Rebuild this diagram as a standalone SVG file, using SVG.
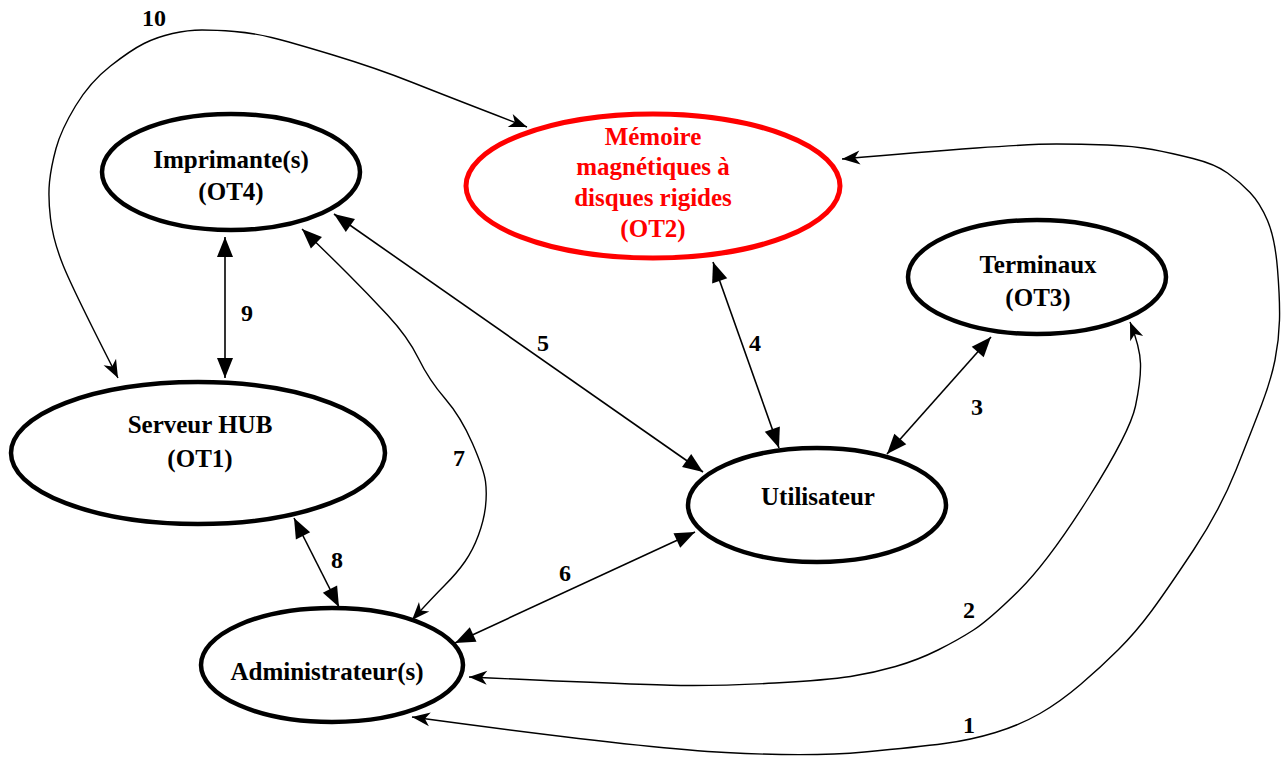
<svg xmlns="http://www.w3.org/2000/svg" width="1282" height="760" viewBox="0 0 1282 760">
<style>
.node{fill:#fff;stroke:#000;stroke-width:4.5}
.red{stroke:#f00;stroke-width:5}
.t{font-family:"Liberation Serif","Times New Roman",serif;font-weight:bold;font-size:25px;text-anchor:middle;fill:#000}
.tr{fill:#f00}
.lbl{font-family:"Liberation Serif","Times New Roman",serif;font-weight:bold;font-size:24px;text-anchor:middle;fill:#000}
.line{fill:none;stroke:#000;stroke-width:1.6;marker-start:url(#tri);marker-end:url(#tri)}
.curve{fill:none;stroke:#000;stroke-width:1.4;stroke-linejoin:round;marker-start:url(#st);marker-end:url(#st)}
</style>
<defs>
<marker id="tri" markerUnits="userSpaceOnUse" markerWidth="22" markerHeight="18" refX="20" refY="8" orient="auto-start-reverse" overflow="visible">
<path d="M0,0 L20,8 L0,16 z" fill="#000"/>
</marker>
<marker id="st" markerUnits="userSpaceOnUse" markerWidth="20" markerHeight="16" refX="18" refY="7" orient="auto-start-reverse" overflow="visible">
<path d="M0,0 L18,7 L0,14 L5,7 z" fill="#000"/>
</marker>
</defs>
<g id="connectors">
<path class="line" d="M225,237 L225,378"/>
<path class="line" d="M294,518 L339,607"/>
<path class="line" d="M334,214 L703,472"/>
<path class="line" d="M713,262 L779,448"/>
<path class="line" d="M991,337 L887,454"/>
<path class="line" d="M455,643 L695,532"/>
<path class="curve" style="marker-start:url(#tri)" d="M302,229 Q327,253 347,273 Q367,293 387.5,315 Q408,337 418.5,358.5 Q429,380 445,398.5 Q461,417 472.5,443.5 Q484,470 485.5,481.5 Q487,493 485.5,506.5 Q484,520 478.5,535 Q473,550 465,561.5 Q457,573 445,585 Q433,597 412,620"/>
<path class="curve" d="M118,378 Q73,290 63,265 Q53,240 50.5,218.5 Q48,197 49.5,182 Q51,167 56,148.5 Q61,130 75.5,106 Q90,82 110.5,66 Q131,50 144,43.5 Q157,37 172.5,33.5 Q188,30 202,30 Q216,30 234.5,31.5 Q253,33 271.5,37.5 Q290,42 333,55 Q376,68 412.5,82.5 Q449,97 527,127"/>
<path class="curve" d="M412,717 Q640,748 725.5,752.5 Q811,757 864.5,752 Q918,747 944.5,743.5 Q971,740 995.5,732.5 Q1020,725 1040,713.5 Q1060,702 1080.5,684.5 Q1101,667 1118.5,649.5 Q1136,632 1151.5,611 Q1167,590 1193.5,550 Q1220,510 1236,470 Q1252,430 1261.5,405 Q1271,380 1275,360 Q1279,340 1279.5,320 Q1280,300 1277.5,269 Q1275,238 1267.5,220.5 Q1260,203 1250,192.5 Q1240,182 1227.5,173 Q1215,164 1193,158.5 Q1171,153 1152.5,149.5 Q1134,146 1107.5,145 Q1081,144 1056.5,144 Q1032,144 976.5,148 Q921,152 842,159"/>
<path class="curve" d="M469,677 Q640,685 681,685.5 Q722,686 775,683 Q828,680 850.5,676.5 Q873,673 895.5,666.5 Q918,660 938,650 Q958,640 973.5,630 Q989,620 1018.5,591 Q1048,562 1089,497 Q1130,432 1135.5,406 Q1141,380 1140.5,363.5 Q1140,347 1130,322"/>
<text class="lbl" x="154" y="26">10</text>
<text class="lbl" x="247" y="321">9</text>
<text class="lbl" x="543" y="351">5</text>
<text class="lbl" x="755" y="351">4</text>
<text class="lbl" x="977" y="415">3</text>
<text class="lbl" x="459" y="466">7</text>
<text class="lbl" x="337" y="568">8</text>
<text class="lbl" x="565" y="581">6</text>
<text class="lbl" x="969" y="618">2</text>
<text class="lbl" x="969" y="733">1</text>
</g>
<g id="imprimante">
<ellipse class="node" cx="231" cy="172" rx="129" ry="58"/>
<text class="t" x="231" y="168">Imprimante(s)</text>
<text class="t" x="231" y="200">(OT4)</text>
</g>
<g id="memoire">
<ellipse class="node red" cx="653" cy="186" rx="187" ry="72"/>
<text class="t tr" x="653" y="145">Mémoire</text>
<text class="t tr" x="653" y="175">magnétiques à</text>
<text class="t tr" x="653" y="206">disques rigides</text>
<text class="t tr" x="653" y="237">(OT2)</text>
</g>
<g id="terminaux">
<ellipse class="node" cx="1037" cy="277" rx="129" ry="57"/>
<text class="t" x="1038" y="273">Terminaux</text>
<text class="t" x="1038" y="306">(OT3)</text>
</g>
<g id="serveur">
<ellipse class="node" cx="198" cy="453" rx="187" ry="71"/>
<text class="t" x="200" y="433">Serveur HUB</text>
<text class="t" x="200" y="467">(OT1)</text>
</g>
<g id="utilisateur">
<ellipse class="node" cx="817" cy="505" rx="129" ry="57"/>
<text class="t" x="818" y="505">Utilisateur</text>
</g>
<g id="administrateur">
<ellipse class="node" cx="332" cy="665" rx="131" ry="57"/>
<text class="t" x="327" y="680">Administrateur(s)</text>
</g>
</svg>
